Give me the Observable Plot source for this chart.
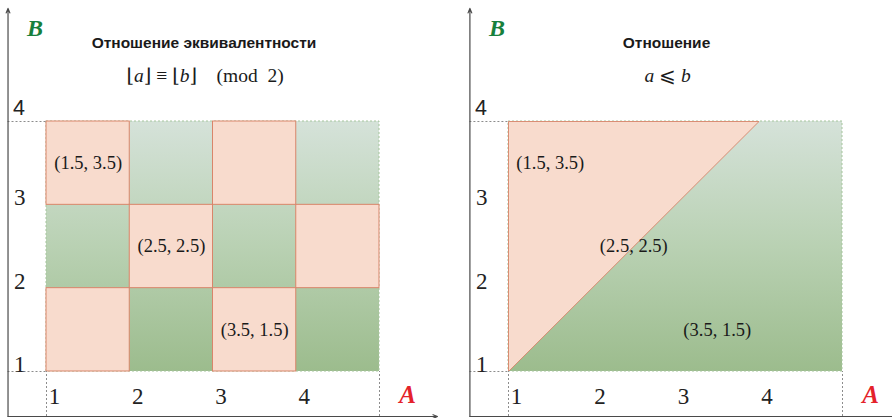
<!DOCTYPE html>
<html><head><meta charset="utf-8">
<script src="https://cdn.jsdelivr.net/npm/d3@7"></script>
<script src="https://cdn.jsdelivr.net/npm/@observablehq/plot@0.6"></script>
<style>
body{margin:0;background:#fff;}
#wrap{display:flex;width:892px;height:418px;overflow:hidden;}
</style></head><body><div id="wrap"></div>
<script>
// ---- data ----
const xTicks = [1, 2, 3, 4];
const yTicks = [1, 2, 3, 4];
const pointText = ["(1.5, 3.5)", "(2.5, 2.5)", "(3.5, 1.5)"];
const pointA = [1.5, 2.5, 3.5];
const pointB = [3.5, 2.5, 1.5];
const pinkCellA = [1, 3, 2, 4, 1, 3];
const pinkCellB = [3, 3, 2, 2, 1, 1];
const triA = [1, 1, 4];
const triB = [1, 4, 4];
const titles = ["Отношение эквивалентности", "Отношение"];
const formulaLeft = [["⌊", 0], ["a", 1], ["⌋ ≡ ⌊", 0], ["b", 1], ["⌋    (mod  2)", 0]];
const formulaRight = [["a", 1], [" ⩽ ", 0], ["b", 1]];
const axisNames = ["A", "B"];
const domainA = [1, 5];
const domainB = [1, 4];

// ---- style ----
const SERIF = "'Liberation Serif','DejaVu Serif',serif";
const SANS = "'Liberation Sans',Arial,sans-serif";
const PINK = "#f8dbcd", PINK_STROKE = "#d9856a";
const AXIS = "#4a4a4a", GUIDE = "#8c8c8c";

function panel({gradId, marginLeft, marginRight, pinkMarks, title, formula, xEnd}) {
  const AX = 1 - 38.5 / 83.3;   // axis position (data units left of plot)
  const AY = 1 - 45 / 83.3;     // axis position (data units below plot)
  const cells = pinkCellA.map((a, i) => ({a, b: pinkCellB[i]}));
  const pts = pointText.map((t, i) => ({t, a: pointA[i], b: pointB[i]}));
  const svg = Plot.plot({
    width: 446, height: 418,
    marginLeft, marginRight, marginTop: 121, marginBottom: 47,
    x: {domain: domainA, axis: null},
    y: {domain: domainB, axis: null},
    style: {background: "white", overflow: "visible"},
    marks: [
      Plot.rect([0], {x1: domainA[0], x2: domainA[1], y1: domainB[0], y2: domainB[1],
        fill: `url(#${gradId})`, stroke: "#a6c59d", strokeDasharray: "2,2", strokeWidth: 1}),
      ...pinkMarks(cells),
      // dotted guides
      Plot.ruleY([domainB[0], domainB[1]], {x1: AX, x2: domainA[0], stroke: GUIDE, strokeDasharray: "2,2", strokeWidth: 1}),
      Plot.ruleX([domainA[0], domainA[1]], {y1: AY, y2: domainB[0], stroke: GUIDE, strokeDasharray: "2,2", strokeWidth: 1}),
      // axes
      Plot.arrow([0], {x1: AX, y1: AY, x2: AX, y2: 4 + 113 / 83.3, stroke: AXIS, strokeWidth: 1.2, headLength: 6, headAngle: 45}),
      Plot.arrow([0], {x1: AX, y1: AY, x2: xEnd, y2: AY, stroke: AXIS, strokeWidth: 1.2, headLength: 6, headAngle: 45}),
      // tick labels
      Plot.text(yTicks.filter(d => d < 4), {x: AX, y: d => d, dx: 6, dy: -7, textAnchor: "start", fontSize: 23, fontFamily: SERIF, fill: "#222"}),
      Plot.text(yTicks.filter(d => d === 4), {x: AX, y: d => d, dx: 5, dy: -13, textAnchor: "start", fontSize: 21.5, fontFamily: SANS, fill: "#222"}),
      Plot.text(xTicks, {x: d => d, y: domainB[0], dx: 8, dy: 25, fontSize: 23, fontFamily: SERIF, fill: "#222"}),
      // axis names
      Plot.text([axisNames[0]], {x: domainA[1], y: domainB[0], dx: 28, dy: 23, fontSize: 25, fontFamily: SERIF, fontStyle: "italic", fontWeight: "bold", fill: "#e4222b"}),
      Plot.text([axisNames[1]], {x: domainA[0], y: domainB[1], dx: -11.5, dy: -93, fontSize: 24, fontFamily: SERIF, fontStyle: "italic", fontWeight: "bold", fill: "#17803c"}),
      // title + formula
      Plot.text([title], {x: 3, y: domainB[1], dx: -9, dy: -78.5, fontSize: 15.5, fontWeight: "bold", fontFamily: SANS, fill: "#1a1a1a"}),
      Plot.text([formula.map(d => d[0]).join("")], {x: 3, y: domainB[1], dx: -8, dy: -46, fontSize: 19.5, fontFamily: SERIF, fill: "#1a1a1a", className: "formula"}),
      // point labels
      Plot.text(pts, {x: "a", y: "b", text: "t", fontSize: 18.5, fontFamily: SERIF, fill: "#1a1a1a"})
    ]
  });
  const s = d3.select(svg);
  s.insert("defs", ":first-child").html(
    `<linearGradient id="${gradId}" x1="0" y1="0" x2="0" y2="1">
       <stop offset="0" stop-color="#d5e2d9"/>
       <stop offset="0.5" stop-color="#b9d1b3"/>
       <stop offset="1" stop-color="#9cbc8d"/>
     </linearGradient>`);
  s.selectAll("g.formula text").each(function () {
    const t = d3.select(this);
    t.text(null).style("white-space", "pre");
    formula.forEach(([str, it]) => {
      t.append("tspan").text(str).style("font-style", it ? "italic" : "normal");
    });
  });
  return svg;
}

const wrap = document.getElementById("wrap");
wrap.append(panel({
  gradId: "gradL", marginLeft: 46, marginRight: 67, title: titles[0], formula: formulaLeft, xEnd: 5 + 58 / 83.3,
  pinkMarks: cells => [Plot.rect(cells, {x1: "a", x2: d => d.a + 1, y1: "b", y2: d => d.b + 1,
    fill: PINK, stroke: PINK_STROKE, strokeWidth: 1})]
}));
wrap.append(panel({
  gradId: "gradR", marginLeft: 62, marginRight: 50, title: titles[1], formula: formulaRight, xEnd: 5 + 80 / 83.3,
  pinkMarks: () => [Plot.line(triA.map((a, i) => ({a, b: triB[i]})).concat([{a: triA[0], b: triB[0]}]),
    {x: "a", y: "b", fill: PINK, stroke: PINK_STROKE, strokeWidth: 0.9})]
}));
</script></body></html>
